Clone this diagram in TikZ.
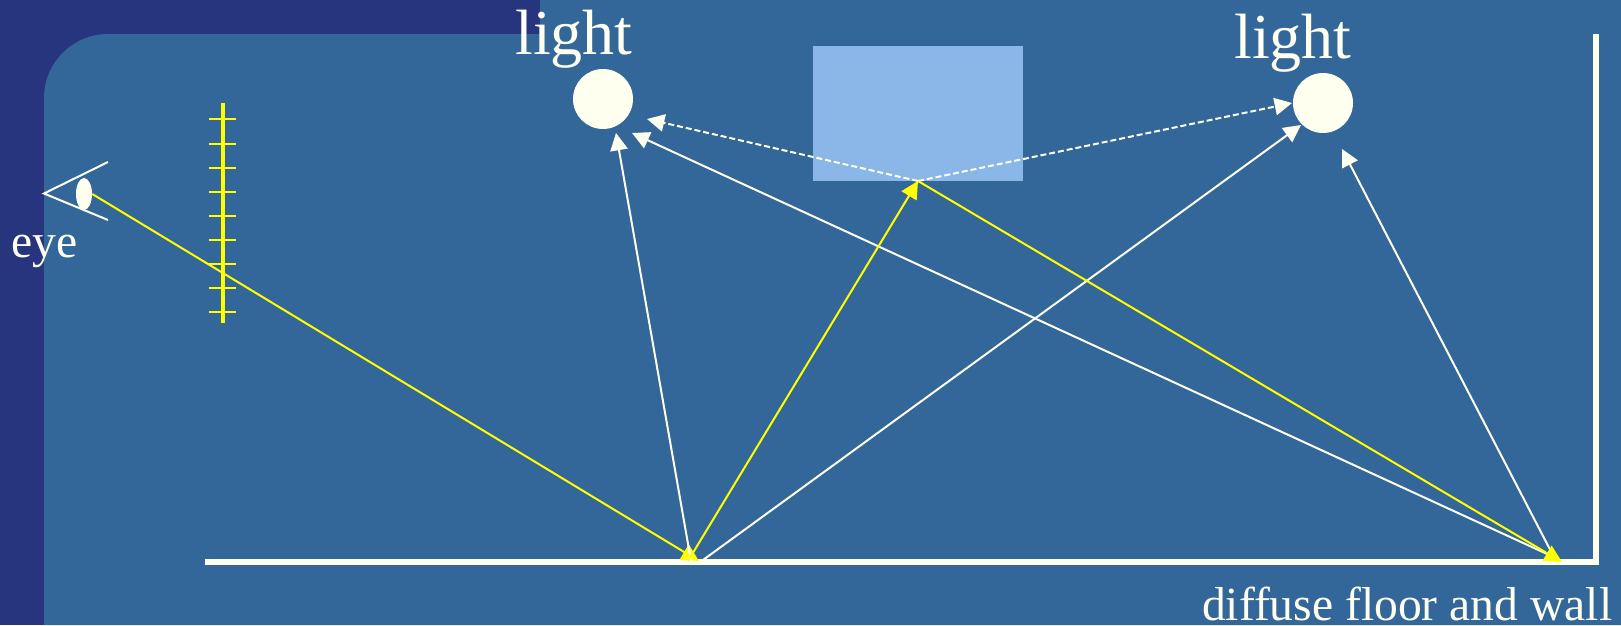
\documentclass[tikz,border=0pt]{standalone}
\usepackage{fontspec}
\setmainfont{Liberation Serif}
\usetikzlibrary{arrows.meta,shapes.geometric}
\definecolor{bgblue}{HTML}{336699}
\definecolor{frameblue}{HTML}{27347E}
\definecolor{cream}{HTML}{FFFFF0}
\definecolor{boxblue}{HTML}{8AB6E8}
\definecolor{ray}{HTML}{FFFF00}
\tikzset{
  wray/.style={cream,line width=1.5pt,-{Triangle[length=13pt,width=13pt]}},
  dray/.style={wray,dash pattern=on 4.5pt off 2.2pt},
  yray/.style={ray,line width=1.5pt,-{Triangle[length=13pt,width=13pt]}},
  tickmark/.style={ray,line width=1.5pt},
  lab/.style={text=cream,inner sep=0pt,anchor=base},
  lamp/.style={circle,fill=cream,draw=none,minimum size=45pt,inner sep=0pt},
  surface/.style={cream,line width=5pt},
}
\begin{document}
\begin{tikzpicture}[x=0.75pt,y=-0.75pt]
\useasboundingbox (0,0) rectangle (1621,625);
\fill[frameblue] (0,0) rectangle (1621,625);
\fill[bgblue] (44,625) -- (44,98) arc[start angle=180,end angle=90,radius=48pt] -- (1621,34) -- (1621,625) -- cycle;
\fill[bgblue] (540,0) rectangle (1621,34);
\node[inner sep=0pt,fill=boxblue,minimum width=157.5pt,minimum height=101.25pt] (box) at (918,113.5) {};
\coordinate (hit) at (918,181);
\node[lamp] (lampa) at (603,99) {};
\node[lamp] (lampb) at (1323,103) {};
\node[lab,font=\fontsize{48}{48}\selectfont] (la) at (574,54.5) {light};
\node[lab,font=\fontsize{48}{48}\selectfont] (lb) at (1293,58.5) {light};
\node[lab,font=\fontsize{35.7}{36}\selectfont] (le) at (44.5,257) {eye};
\node[lab,font=\fontsize{35.7}{36}\selectfont,anchor=base east] (lf) at (1612.5,620) {diffuse floor and wall};
% eye
\coordinate (eyetop) at (108,162);
\coordinate (eyeapex) at (44,193.5);
\coordinate (eyebot) at (108,220);
\draw[cream,line width=1.5pt] (eyetop) -- (eyeapex) -- (eyebot);
\node[ellipse,fill=cream,minimum width=12pt,minimum height=24pt,inner sep=0pt] (pupil) at (84,194) {};
% image plane
\coordinate (pt) at (223,103);
\coordinate (pb) at (223,323);
\draw[ray,line width=3pt] (pt) -- (pb);
\foreach \y in {119,144,168,192,216,240,264,288,312}{
  \coordinate (ta) at (209,\y); \coordinate (tb) at (236,\y);
  \draw[tickmark] (ta) -- (tb);
}
% surfaces
\coordinate (fl) at (205,562);
\coordinate (corner) at (1596,562);
\coordinate (wt) at (1596,34);
\draw[surface] (fl) -- (corner);
\draw[surface] (1596,565) -- (wt);
% floor points
\coordinate (f1) at (691,561);
\coordinate (f1y) at (688,561);
\coordinate (f1w) at (703,560);
\coordinate (f1t) at (699,561);
\coordinate (f2) at (1558,559);
\coordinate (f2b) at (1556,561);
\coordinate (f2y) at (1562,562);
% light targets
\coordinate (a1) at (616,133);
\coordinate (a2) at (632,133);
\coordinate (a3) at (647,119);
\coordinate (b1) at (1292,103);
\coordinate (b2) at (1301,125);
\coordinate (b3) at (1342,149);
% rays
\draw[yray] (pupil.east) -- (f1t);
\draw[wray] (f1) -- (a1);
\draw[wray] (f1w) -- (b2);
\draw[wray] (f2) -- (a2);
\draw[wray] (f2b) -- (b3);
\draw[dray] (hit) -- (a3);
\draw[dray] (hit) -- (b1);
\draw[yray] (f1y) -- (hit);
\draw[yray] (hit) -- (f2y);
\end{tikzpicture}
\end{document}
